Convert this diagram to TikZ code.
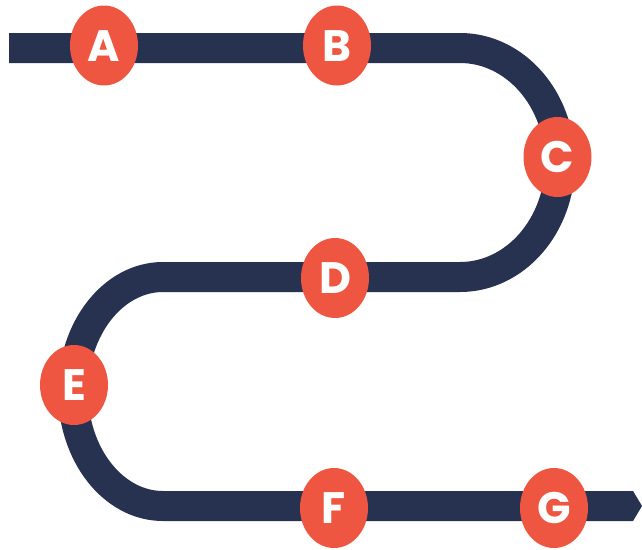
\documentclass[tikz,border=0pt]{standalone}
\usepackage{fontspec}
\newfontfamily\stopfont{Poppins}
\usetikzlibrary{shapes.geometric}
\definecolor{navy}{HTML}{273150}
\definecolor{stopred}{HTML}{EF5641}
\tikzset{
  road/.style={draw=navy, line width=30pt, line cap=butt, line join=round},
  stopnode/.style={ellipse, fill=stopred, draw=none, minimum width=68pt, minimum height=80pt, inner sep=0pt,
    text=white, font=\stopfont\bfseries\fontsize{44}{44}\selectfont, text height=31pt, text depth=0pt}
}
\begin{document}
\begin{tikzpicture}[x=1pt,y=-1pt]
\useasboundingbox (0,0) rectangle (642,549);
\coordinate (start) at (9,48);
\coordinate (r1) at (460,48);
\coordinate (r2) at (460,277);
\coordinate (l1) at (163,277);
\coordinate (l2) at (163,506);
\coordinate (finish) at (633,506);
\draw[road] (start) -- (r1) arc[start angle=90, end angle=-90, x radius=100, y radius=-114.5]
  -- (l1) arc[start angle=90, end angle=270, x radius=90, y radius=-114.5] -- (finish);
\fill[navy] (633,491) -- (642,506) -- (633,521) -- cycle;
\node[stopnode] (A) at (104,45.5) {A};
\node[stopnode] (B) at (337,45.5) {B};
\node[stopnode] (C) at (557.5,157) {C};
\node[stopnode] (D) at (335,278) {D};
\node[stopnode] (E) at (74,385) {E};
\node[stopnode] (F) at (334,508) {F};
\node[stopnode] (G) at (554,508) {G};
\end{tikzpicture}
\end{document}
